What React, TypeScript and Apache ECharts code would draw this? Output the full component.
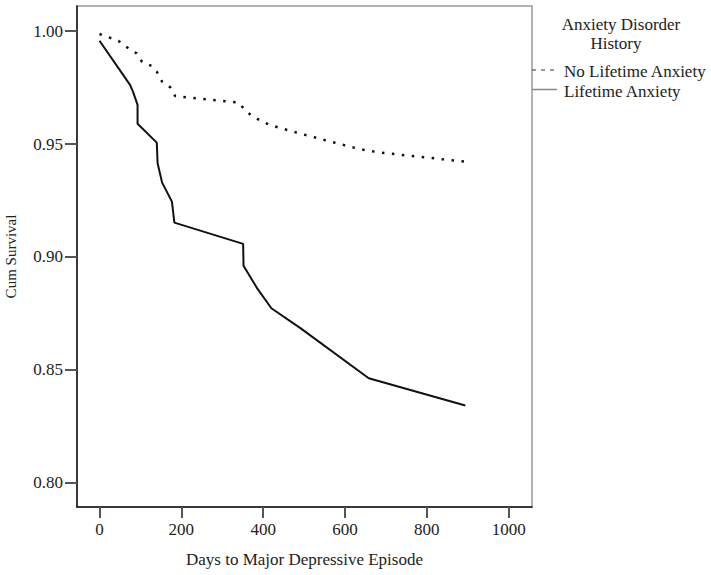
import React, { useEffect, useRef } from "react";
import * as echarts from "echarts";

const lifetimeDays = [0, 75, 82, 93, 93, 140, 142, 153, 177, 183, 351, 352, 385, 420, 491, 658, 894];
const lifetimeSurv = [0.9957, 0.9761, 0.9731, 0.9673, 0.959, 0.9506, 0.9415, 0.9329, 0.9245, 0.9152, 0.9058, 0.8961, 0.8862, 0.8773, 0.8685, 0.8463, 0.8342];

const noLifetimeDays = [0, 46, 71, 91, 104, 128, 140, 153, 173, 185, 263, 340, 352, 370, 391, 416, 489, 587, 637, 686, 764, 841, 894];
const noLifetimeSurv = [0.9987, 0.9957, 0.9923, 0.9901, 0.9864, 0.9845, 0.982, 0.9776, 0.9751, 0.9712, 0.9698, 0.9683, 0.9658, 0.9628, 0.9606, 0.9584, 0.9547, 0.95, 0.9477, 0.9462, 0.9447, 0.9432, 0.9422];

const xTicks = [0, 200, 400, 600, 800, 1000];
const yTicks = [0.8, 0.85, 0.9, 0.95, 1.0];

const legendTitle = ["Anxiety Disorder", "History"];
const seriesNames = ["No Lifetime Anxiety", "Lifetime Anxiety"];

const FONT = '"Liberation Serif", "Times New Roman", serif';

export default function App() {
  const ref = useRef<HTMLDivElement>(null);
  useEffect(() => {
    document.body.style.margin = "0";
    const chart = echarts.init(ref.current!, null, { renderer: "svg" });
    const textColor = "#222";
    chart.setOption({
      animation: false,
      backgroundColor: "#fff",
      grid: {
        left: 77,
        right: 179,
        top: 6,
        bottom: 68,
        show: true,
        borderColor: "#999",
        borderWidth: 1.5,
        containLabel: false,
        outerBoundsMode: "none",
      },
      xAxis: {
        type: "value",
        min: -55,
        max: 1057,
        name: "Days to Major Depressive Episode",
        nameLocation: "middle",
        nameGap: 44,
        nameTextStyle: { fontFamily: FONT, fontSize: 17, color: textColor },
        splitLine: { show: false },
        axisLine: { show: true, onZero: false, lineStyle: { color: "#111", width: 1.5 } },
        axisTick: { show: true, length: 11, customValues: xTicks, lineStyle: { color: "#555", width: 2 } },
        axisLabel: {
          customValues: xTicks,
          margin: 14,
          fontFamily: FONT,
          fontSize: 17,
          color: textColor,
          formatter: (v: number) => String(Math.round(v)),
        },
      },
      yAxis: {
        type: "value",
        min: 0.7893,
        max: 1.0111,
        name: "Cum Survival",
        nameLocation: "middle",
        nameGap: 59,
        nameRotate: 90,
        nameTextStyle: { fontFamily: FONT, fontSize: 15, color: textColor },
        splitLine: { show: false },
        axisLine: { show: true, onZero: false, lineStyle: { color: "#111", width: 1.5 } },
        axisTick: { show: true, length: 12, customValues: yTicks, lineStyle: { color: "#555", width: 2 } },
        axisLabel: {
          customValues: yTicks,
          margin: 14,
          fontFamily: FONT,
          fontSize: 17,
          color: textColor,
          formatter: (v: number) => v.toFixed(2),
        },
      },
      series: [
        {
          name: seriesNames[0],
          type: "line",
          symbol: "none",
          data: noLifetimeDays.map((d, i) => [d, noLifetimeSurv[i]]),
          lineStyle: { color: "#111", width: 2.5, type: [2.5, 7.5] },
        },
        {
          name: seriesNames[1],
          type: "line",
          symbol: "none",
          data: lifetimeDays.map((d, i) => [d, lifetimeSurv[i]]),
          lineStyle: { color: "#111", width: 2 },
        },
      ],
      graphic: [
        {
          type: "text",
          x: 621,
          y: 24,
          style: { text: legendTitle[0], font: `17px ${FONT}`, fill: textColor, align: "center", verticalAlign: "middle" },
        },
        {
          type: "text",
          x: 616,
          y: 43,
          style: { text: legendTitle[1], font: `17px ${FONT}`, fill: textColor, align: "center", verticalAlign: "middle" },
        },
        {
          type: "line",
          shape: { x1: 532, y1: 70, x2: 557, y2: 70 },
          style: { stroke: "#333", lineWidth: 1, lineDash: [4, 5] },
        },
        {
          type: "text",
          x: 564,
          y: 71,
          style: { text: seriesNames[0], font: `17px ${FONT}`, fill: textColor, align: "left", verticalAlign: "middle" },
        },
        {
          type: "line",
          shape: { x1: 532, y1: 89.5, x2: 557, y2: 89.5 },
          style: { stroke: "#888", lineWidth: 1.5 },
        },
        {
          type: "text",
          x: 564,
          y: 91,
          style: { text: seriesNames[1], font: `17px ${FONT}`, fill: textColor, align: "left", verticalAlign: "middle" },
        },
      ],
    });
    return () => chart.dispose();
  }, []);
  return <div ref={ref} style={{ width: 711, height: 575 }} />;
}
